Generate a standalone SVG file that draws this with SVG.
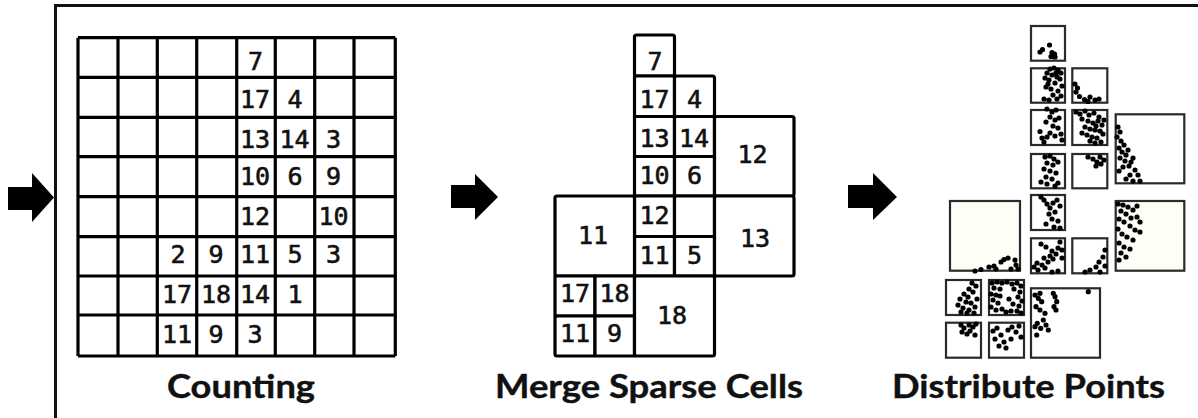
<svg xmlns="http://www.w3.org/2000/svg" width="1198" height="418" viewBox="0 0 1198 418">
<style>
.g{fill:none;stroke:#000;stroke-width:3.2}
.c{fill:#fff;stroke:#000;stroke-width:3.2;stroke-linejoin:round}
.n{font-family:"DejaVu Sans Mono","Liberation Mono",monospace;font-size:25px;fill:#111;stroke:#111;stroke-width:0.6;text-anchor:middle}
.lbl{font-family:Lato,"Open Sans","Liberation Sans",sans-serif;font-weight:bold;font-size:33px;fill:#111;stroke:#111;stroke-width:0.4}
.b{fill:#fff;stroke:#2a2a2a;stroke-width:2.2}
.bc{fill:#fefef6;stroke:#2a2a2a;stroke-width:2.2}
.p{fill:none;stroke:#000;stroke-width:5.2;stroke-linecap:round}
.arr{fill:#000}
</style>
<rect width="1198" height="418" fill="#fff"/>
<g id="frame"><path d="M55.5,418 V5.5 H1198" fill="none" stroke="#111" stroke-width="3"/></g>

<g id="connectors">
<polygon class="arr" points="8,187 32,187 32,173 54,197.5 32,222 32,210 8,210"/>
<polygon class="arr" points="451,185 475,185 475,174 498,197 475,220 475,208 451,208"/>
<polygon class="arr" points="848,185 873,185 873,173 897,197 873,220 873,208 848,208"/>
</g>

<g id="counting">
<path class="g" d="M78,37.7H395.3M78,77.3H395.3M78,117.3H395.3M78,156.7H395.3M78,196.7H395.3M78,236.7H395.3M78,276H395.3M78,315H395.3M78,356H395.3M78,37.7V356M118,37.7V356M157.3,37.7V356M196.7,37.7V356M236.7,37.7V356M275.3,37.7V356M314.7,37.7V356M354,37.7V356M395.3,37.7V356"/>
<text class="n" x="255.5" y="70">7</text>
<text class="n" x="255" y="108.3">17</text><text class="n" x="295" y="108.3">4</text>
<text class="n" x="255" y="148">13</text><text class="n" x="294.5" y="148">14</text><text class="n" x="333.5" y="148">3</text>
<text class="n" x="255" y="185">10</text><text class="n" x="295" y="185">6</text><text class="n" x="333.5" y="185">9</text>
<text class="n" x="255" y="225">12</text><text class="n" x="333.5" y="225">10</text>
<text class="n" x="178" y="263.3">2</text><text class="n" x="216" y="263.3">9</text><text class="n" x="255" y="263.3">11</text><text class="n" x="295" y="263.3">5</text><text class="n" x="333.5" y="263.3">3</text>
<text class="n" x="177" y="303.3">17</text><text class="n" x="216" y="303.3">18</text><text class="n" x="255" y="303.3">14</text><text class="n" x="295" y="303.3">1</text>
<text class="n" x="177" y="343.3">11</text><text class="n" x="216" y="343.3">9</text><text class="n" x="255" y="343.3">3</text>
<text class="lbl" x="167" y="398" textLength="148" lengthAdjust="spacingAndGlyphs">Counting</text>
</g>

<g id="merge">
<rect class="c" x="634.5" y="35" width="40" height="41" rx="2"/>
<rect class="c" x="634.5" y="76" width="40" height="40.5"/><rect class="c" x="674.5" y="76" width="40" height="40.5" rx="2"/>
<rect class="c" x="634.5" y="116.5" width="40" height="40"/><rect class="c" x="674.5" y="116.5" width="40" height="40"/>
<rect class="c" x="634.5" y="156.5" width="40" height="39.5"/><rect class="c" x="674.5" y="156.5" width="40" height="39.5"/>
<rect class="c" x="634.5" y="196" width="40" height="40.5"/><rect class="c" x="674.5" y="196" width="40" height="40.5"/>
<rect class="c" x="634.5" y="236.5" width="40" height="39.5"/><rect class="c" x="674.5" y="236.5" width="40" height="39.5"/>
<rect class="c" x="714.5" y="116.5" width="79.5" height="79.5" rx="2"/>
<rect class="c" x="714.5" y="196" width="79.5" height="80" rx="2"/>
<rect class="c" x="555" y="196" width="79.5" height="80" rx="2"/>
<rect class="c" x="555" y="276" width="40" height="40"/><rect class="c" x="595" y="276" width="39.5" height="40"/>
<rect class="c" x="555" y="316" width="40" height="40" rx="2"/><rect class="c" x="595" y="316" width="39.5" height="40"/>
<rect class="c" x="634.5" y="276" width="80" height="80" rx="2"/>
<text class="n" x="655" y="70">7</text>
<text class="n" x="654.5" y="107.5">17</text><text class="n" x="694.5" y="107.5">4</text>
<text class="n" x="654.5" y="146.5">13</text><text class="n" x="694" y="146.5">14</text>
<text class="n" x="654.5" y="183.5">10</text><text class="n" x="694.5" y="183.5">6</text>
<text class="n" x="654.5" y="223.5">12</text>
<text class="n" x="654.5" y="263.5">11</text><text class="n" x="694.5" y="263.5">5</text>
<text class="n" x="752.5" y="163">12</text>
<text class="n" x="755" y="246.5">13</text>
<text class="n" x="593" y="244.3">11</text>
<text class="n" x="575" y="301.5">17</text><text class="n" x="614.5" y="301.5">18</text>
<text class="n" x="575" y="341.5">11</text><text class="n" x="614.5" y="341.5">9</text>
<text class="n" x="672" y="324">18</text>
<text class="lbl" x="495" y="398" textLength="308" lengthAdjust="spacingAndGlyphs">Merge Sparse Cells</text>
</g>

<g id="distribute">
<rect class="b" x="1031" y="26" width="34" height="34.7"/>
<rect class="b" x="1031" y="68.3" width="34" height="34.4"/><rect class="b" x="1072.3" y="68.3" width="35" height="34.4"/>
<rect class="b" x="1031" y="110" width="34" height="35"/><rect class="b" x="1072.3" y="110" width="35" height="35"/>
<rect class="b" x="1115.7" y="114.3" width="68.6" height="69"/>
<rect class="b" x="1031" y="154" width="34" height="34.3"/><rect class="b" x="1072.3" y="154" width="35" height="34.3"/>
<rect class="b" x="1031" y="195" width="34" height="35"/>
<rect class="bc" x="950" y="201" width="70" height="69.7"/>
<rect class="bc" x="1115.7" y="201" width="68.6" height="69.7"/>
<rect class="b" x="1031" y="238.3" width="34" height="35"/><rect class="b" x="1072.3" y="238.3" width="35" height="35"/>
<rect class="b" x="946" y="280" width="35" height="35"/><rect class="b" x="989" y="280" width="35" height="35"/>
<rect class="b" x="946" y="322.7" width="35" height="35"/><rect class="b" x="989" y="322.7" width="35" height="35"/>
<rect class="b" x="1031" y="288.3" width="69" height="69.4"/>
<path class="p" d="M1040,52h0M1042.5,49.5h0M1049.5,45h0M1052,52.5h0M1051,56.5h0M1055,57h0M1054.5,54h0"/>
<path class="p" d="M1050,69h0M1054,68h0M1058,70h0M1061,73h0M1047,73h0M1052,75h0M1057,77h0M1045,78h0M1049,80h0M1060,79h0M1055,83h0M1062,86h0M1046,87h0M1051,89h0M1058,91h0M1053,95h0M1061,96h0M1044,99h0M1049,100h0M1057,99h0M1056,73h0M1048,84h0"/>
<path class="p" d="M1075,84h0M1077.5,88h0M1076,92h0M1079.5,96.5h0M1084.5,99.5h0M1090,97h0M1095,100h0M1088,101.5h0M1099,99h0"/>
<path class="p" d="M1047,109h0M1052,112h0M1056,110h0M1050,117h0M1055,120h0M1059,118h0M1046,122h0M1053,126h0M1058,128h0M1061,134h0M1055,136h0M1040,131.5h0M1042,138h0M1047,137h0M1050,133h0M1062,140h0M1044,142h0"/>
<path class="p" d="M1076,112h0M1080,114h0M1085,111h0M1089,115h0M1094,113h0M1099,117h0M1082,119h0M1088,121h0M1093,123h0M1098,121h0M1102,125h0M1085,127h0M1090,129h0M1095,130h0M1100,131h0M1087,135h0M1092,137h0M1097,138h0M1103,134h0M1090,141h0M1095,143h0M1101,142h0M1104,120h0M1082,133h0M1096,126h0"/>
<path class="p" d="M1118,127h0M1120,132h0M1117,137h0M1121,141h0M1124,145h0M1119,148h0M1122,152h0M1126,155h0M1128,150h0M1120,158h0M1125,161h0M1131,162h0M1133,158h0M1129,166h0M1123,167h0M1135,170h0M1138,175h0M1130,175h0M1126,179h0M1133,181h0M1140,181h0M1119,171h0"/>
<path class="p" d="M1045,157h0M1050,156h0M1054,159h0M1047,163h0M1053,165h0M1058,162h0M1044,169h0M1050,171h0M1056,173h0M1046,177h0M1052,179h0M1041,182h0M1047,184h0M1058,183h0M1055,186h0"/>
<path class="p" d="M1088,157h0M1093,159h0M1097,162h0M1101,164h0M1104,160h0M1100,157h0M1096,166h0"/>
<path class="p" d="M1041,197h0M1044,200h0M1047,204h0M1050,208h0M1053,203h0M1057,200h0M1060,206h0M1055,212h0M1049,214h0M1052,219h0M1058,221h0M1046,224h0M1060,228h0M1054,227h0"/>
<path class="p" d="M975,271h0M981,269.5h0M989,267h0M994,266h0M1001,262h0M1004,259.5h0M1008,258h0M1015,260h0M1016,265h0M1018,269h0M1011,269h0M996,269h0"/>
<path class="p" d="M1118,204h0M1123,205h0M1128,207h0M1133,210h0M1137,206h0M1121,211h0M1126,214h0M1131,218h0M1137,217h0M1140,222h0M1119,219h0M1124,222h0M1130,226h0M1135,230h0M1140,232h0M1118,229h0M1122,234h0M1127,237h0M1133,240h0M1119,243h0M1124,247h0M1130,249h0M1121,253h0M1126,257h0M1119,260h0"/>
<path class="p" d="M1034,267h0M1038,270h0M1037,263h0M1042,265h0M1045,268h0M1048,262h0M1044,258h0M1050,256h0M1053,259h0M1056,254h0M1052,251h0M1058,248h0M1046,247h0M1041,244h0M1060,242h0M1062,250h0M1062,258h0M1052,272h0M1058,271h0"/>
<path class="p" d="M1085,272h0M1090,270h0M1096,267h0M1099,262h0M1103,257h0M1105,250h0M1105,266h0M1100,272h0"/>
<path class="p" d="M972,283h0M976,286h0M969,289h0M973,292h0M964,294h0M968,297h0M960,299h0M966,302h0M971,303h0M958,305h0M963,308h0M969,310h0M975,307h0M961,312h0M967,313h0M974,313h0M977,299h0"/>
<path class="p" d="M992,283h0M997,282h0M1002,283h0M1007,282h0M1012,284h0M1017,283h0M1021,286h0M994,288h0M1000,289h0M1014,289h0M1020,292h0M991,294h0M996,295h0M1018,297h0M1022,301h0M993,300h0M998,303h0M1009,299h0M1013,304h0M1019,306h0M991,307h0M996,310h0M1002,309h0M1006,312h0M1011,311h0M1017,311h0M1021,313h0M1000,296h0"/>
<path class="p" d="M961,325h0M964,328h0M962,332h0M967,334h0M970,331h0M973,327h0M976,324h0M975,335h0M969,325h0"/>
<path class="p" d="M993,331h0M997,328h0M1001,335h0M995,339h0M1004,342h0M1008,330h0M1012,327h0M1016,332h0M1019,326h0M1021,337h0M1011,339h0M999,346h0M1006,348h0"/>
<path class="p" d="M1035,295h0M1038.3,298.3h0M1040,293.3h0M1041.7,301.7h0M1036,306.7h0M1040,310h0M1045,313.3h0M1043.3,320h0M1037.3,323.3h0M1035,326.7h0M1040.7,328.3h0M1046,325h0M1048.3,330h0M1036.7,335h0M1053.3,293.3h0M1055,296.7h0M1056.7,301.7h0M1054,306.7h0M1056,310h0M1088.3,291.7h0"/>
<text class="lbl" x="892" y="398" textLength="273" lengthAdjust="spacingAndGlyphs">Distribute Points</text>
</g>
</svg>
